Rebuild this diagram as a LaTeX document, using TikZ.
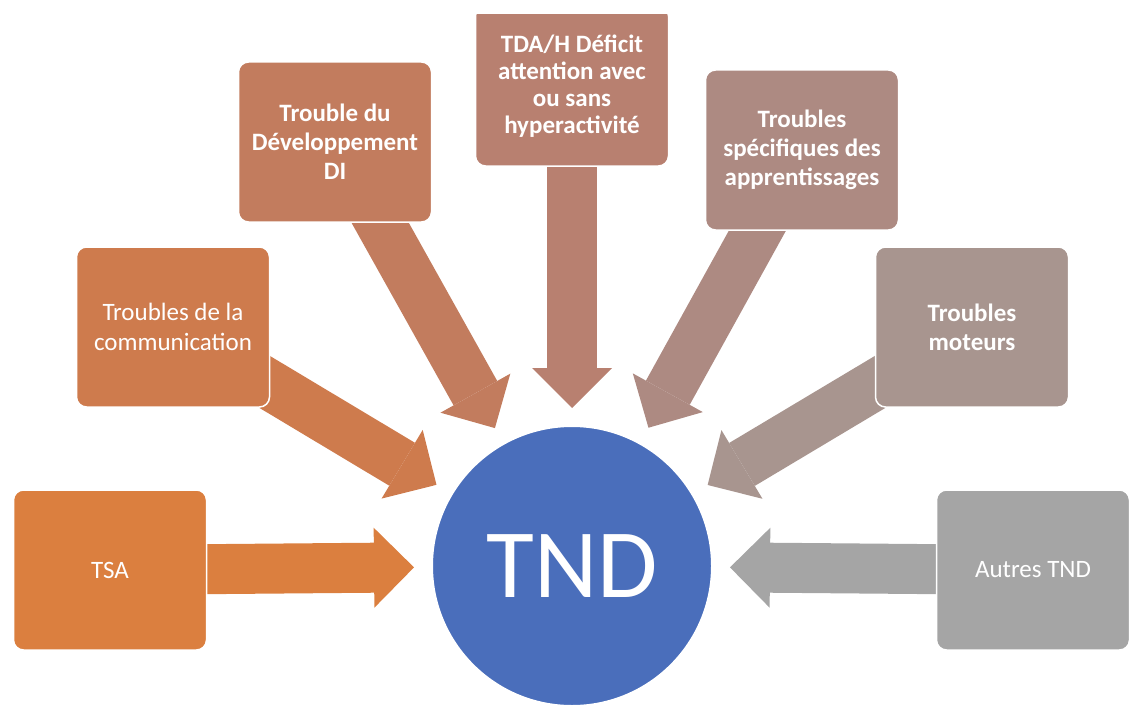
\documentclass[tikz,border=0pt]{standalone}
\usepackage{fontspec}
\setmainfont{Carlito}
\usetikzlibrary{positioning,arrows.meta,backgrounds}
\definecolor{tndblue}{HTML}{4A6EBB}
\definecolor{ctsa}{HTML}{DB7F3F}
\definecolor{ccomm}{HTML}{CE7B4D}
\definecolor{cdi}{HTML}{C27C5E}
\definecolor{ctda}{HTML}{B88070}
\definecolor{cappr}{HTML}{AD8A82}
\definecolor{cmot}{HTML}{A8958F}
\definecolor{cautres}{HTML}{A5A5A5}

\begin{document}
\begin{tikzpicture}[x=1pt,y=1pt]
    \tikzstyle{every node}=[inner sep=0]
    \tikzstyle{box}=[rectangle,rounded corners=10,minimum width=193,minimum height=160,draw=white,line width=1.5,text=white,align=center,font=\fontsize{25}{30}\selectfont]
    \tikzstyle{boxb}=[box,font=\fontsize{25}{29}\selectfont\bfseries]
    \tikzstyle{fat}=[line width=50,-{Triangle[length=40pt,width=80pt,line width=0pt]},shorten >=17]

    \useasboundingbox (0,0) rectangle (1140,-709);

    \node[circle,fill=tndblue,draw=white,line width=2,minimum size=280,text=white,font=\fontsize{98}{98}\selectfont] (tnd) at (572,-566) {TND};

    \node[box,fill=ctsa] (tsa) at (110,-570) {TSA};
    \node[box,fill=ccomm] (comm) at (173,-327) {Troubles de la\\communication};
    \node[boxb,fill=cdi] (di) at (335,-142) {Trouble du\\Développement\\DI};
    \node[boxb,fill=ctda,font=\fontsize{25}{27}\selectfont\bfseries] (tda) at (572,-86) {TDA/H Déficit\\attention avec\\ou sans\\hyperactivité};
    \node[boxb,fill=cappr] (appr) at (802,-150) {Troubles\\spécifiques des\\apprentissages};
    \node[boxb,fill=cmot] (mot) at (972,-327) {Troubles\\moteurs};
    \node[box,fill=cautres] (autres) at (1033,-570) {Autres TND};

    \begin{pgfonlayer}{background}
        \foreach \b/\c in {tsa/ctsa,comm/ccomm,di/cdi,tda/ctda,appr/cappr,mot/cmot,autres/cautres}
            \draw[fat,\c] (\b.center) -- (tnd);
    \end{pgfonlayer}

    % bande claire du haut
    \fill[white] (0,0) rectangle (1140,-14);
\end{tikzpicture}
\end{document}
